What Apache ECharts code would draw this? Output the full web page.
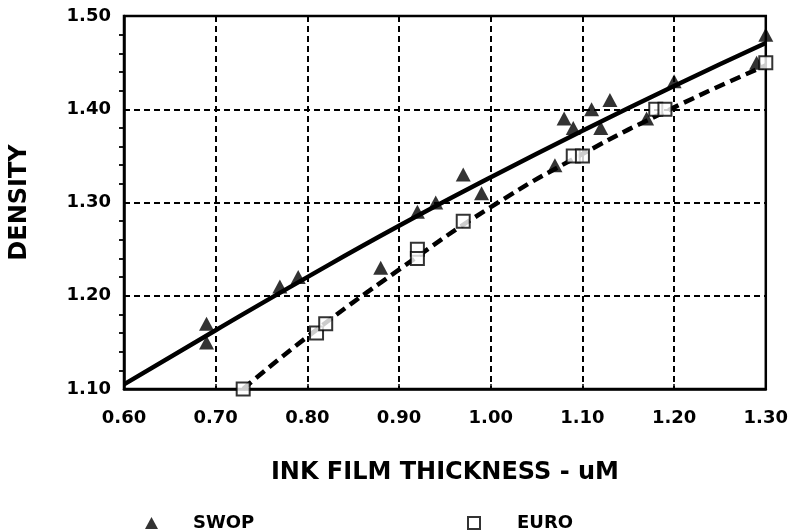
<!DOCTYPE html>
<html>
<head>
<meta charset="utf-8">
<script src="https://cdn.jsdelivr.net/npm/echarts@6/dist/echarts.min.js"></script>
<style>html,body{margin:0;padding:0;background:#fff;}#c{width:791px;height:531px;}</style>
</head>
<body>
<div id="c"></div>
<script>
// SWOP measured points
const swopX = [0.69, 0.69, 0.77, 0.79, 0.88, 0.92, 0.94, 0.97, 0.99, 1.07, 1.08, 1.09, 1.11, 1.12, 1.13, 1.17, 1.20, 1.29, 1.30];
const swopY = [1.17, 1.15, 1.21, 1.22, 1.23, 1.29, 1.30, 1.33, 1.31, 1.34, 1.39, 1.38, 1.40, 1.38, 1.41, 1.39, 1.43, 1.45, 1.48];
// EURO measured points
const euroX = [0.73, 0.81, 0.82, 0.92, 0.92, 0.97, 1.09, 1.10, 1.18, 1.19, 1.30];
const euroY = [1.10, 1.16, 1.17, 1.25, 1.24, 1.28, 1.35, 1.35, 1.40, 1.40, 1.45];
// fitted curves
const swopFitX = [0.60, 0.70, 0.80, 0.90, 1.00, 1.10, 1.20, 1.30];
const swopFitY = [1.105, 1.163, 1.220, 1.275, 1.327, 1.377, 1.425, 1.471];
const euroFitX = [0.73, 0.80, 0.90, 1.00, 1.10, 1.20, 1.30];
const euroFitY = [1.100, 1.156, 1.228, 1.295, 1.352, 1.402, 1.447];
// axis ticks
const xTicks = [0.60, 0.70, 0.80, 0.90, 1.00, 1.10, 1.20, 1.30];
const yTicks = [1.10, 1.20, 1.30, 1.40, 1.50];

const zip = (a, b) => a.map((v, i) => [v, b[i]]);
const FONT = 'DejaVu Sans';

const chart = echarts.init(document.getElementById('c'), null, {renderer: 'canvas'});
chart.setOption({
  animation: false,
  backgroundColor: '#fff',
  grid: {left: 123, top: 16, right: 24, bottom: 142, show: true, borderColor: '#000', borderWidth: 2.5, backgroundColor: 'transparent'},
  legend: [
    {left: 140, top: 509, data: ['SWOP'], itemWidth: 13, itemHeight: 12, icon: 'triangle',
     textStyle: {fontFamily: FONT, fontWeight: 'bold', fontSize: 18, color: '#000', padding: [0, 0, 0, 30]}},
    {left: 462, top: 509, data: ['EURO'], itemWidth: 12, itemHeight: 12, icon: 'rect',
     textStyle: {fontFamily: FONT, fontWeight: 'bold', fontSize: 18, color: '#000', padding: [0, 0, 0, 32]}}
  ],
  xAxis: {
    type: 'value', min: xTicks[0], max: xTicks[xTicks.length - 1], interval: 0.1,
    name: 'INK FILM THICKNESS - uM', nameLocation: 'middle', nameGap: 72,
    nameTextStyle: {fontFamily: FONT, fontWeight: 'bold', fontSize: 24, color: '#000'},
    axisLine: {show: true, onZero: false, lineStyle: {color: '#000', width: 2.5}},
    axisTick: {show: true, inside: true, length: 5, lineStyle: {color: '#000', width: 1.5}},
    axisLabel: {margin: 20, fontFamily: FONT, fontWeight: 'bold', fontSize: 18, color: '#000',
      formatter: v => v.toFixed(2)},
    splitLine: {show: true, lineStyle: {color: '#000', width: 2, type: [6, 4]}}
  },
  yAxis: {
    type: 'value', min: yTicks[0], max: yTicks[yTicks.length - 1], interval: 0.1,
    name: 'DENSITY', nameLocation: 'middle', nameGap: 92, nameRotate: 90,
    nameTextStyle: {fontFamily: FONT, fontWeight: 'bold', fontSize: 24, color: '#000'},
    axisLine: {show: true, onZero: false, lineStyle: {color: '#000', width: 2.5}},
    axisTick: {show: false},
    minorTick: {show: true, splitNumber: 5, length: 5, lineStyle: {color: '#000', width: 1.8}},
    axisLabel: {margin: 13, fontFamily: FONT, fontWeight: 'bold', fontSize: 18, color: '#000',
      formatter: v => v.toFixed(2)},
    splitLine: {show: true, lineStyle: {color: '#000', width: 2, type: [6, 4]}}
  },
  series: [
    {name: 'SWOP fit', type: 'line', data: zip(swopFitX, swopFitY), smooth: 0.5, symbol: 'none',
     lineStyle: {color: '#000', width: 4.5}, z: 3},
    {name: 'EURO fit', type: 'line', data: zip(euroFitX, euroFitY), smooth: 0.5, symbol: 'none',
     lineStyle: {color: '#000', width: 4.5, type: [11, 6]}, z: 3},
    {name: 'SWOP', type: 'scatter', data: zip(swopX, swopY), symbol: 'triangle', symbolSize: [15, 14],
     itemStyle: {color: '#000'}, z: 4},
    {name: 'EURO', type: 'scatter', data: zip(euroX, euroY), symbol: 'rect', symbolSize: [13, 13],
     itemStyle: {color: '#fff', borderColor: '#000', borderWidth: 2}, z: 4}
  ]
});
</script>
</body>
</html>
